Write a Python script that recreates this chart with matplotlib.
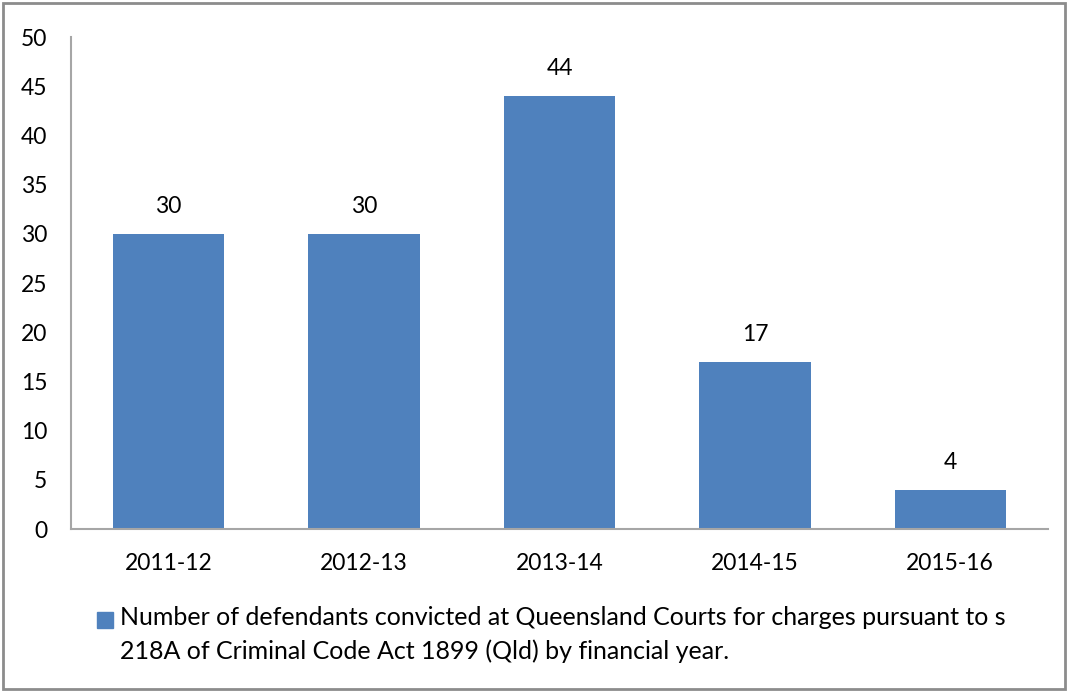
import numpy as np
import matplotlib.pyplot as plt
from matplotlib.patches import Rectangle

plt.rcParams['font.family'] = ['Lato', 'DejaVu Sans']

years = ['2011-12', '2012-13', '2013-14', '2014-15', '2015-16']
convicted = [30, 30, 44, 17, 4]
legend_label = ('Number of defendants convicted at Queensland Courts for charges pursuant to s\n'
                '218A of Criminal Code Act 1899 (Qld) by financial year.')

bar_color = '#4F81BD'
fsize = 16.5

fig = plt.figure(figsize=(10.68, 6.92), dpi=100)
ax = fig.add_axes([71/1068, 1 - 529/692, (1048 - 71)/1068, (529 - 37)/692])

x = np.arange(len(years))
bars = ax.bar(x, convicted, width=0.57, color=bar_color)

for b, v in zip(bars, convicted):
    ax.annotate(str(v), (b.get_x() + b.get_width()/2, v), xytext=(0, 12),
                textcoords='offset points', ha='center', va='bottom', fontsize=fsize)

ax.set_xlim(-0.5, len(years) - 0.5)
ax.set_ylim(0, 50)
ax.set_yticks(range(0, 51, 5))
ax.set_xticks(x)
ax.set_xticklabels(years)
ax.tick_params(length=0, labelsize=fsize)
ax.tick_params(axis='x', pad=17)
ax.tick_params(axis='y', pad=17)

for s in ['top', 'right']:
    ax.spines[s].set_visible(False)
for s in ['left', 'bottom']:
    ax.spines[s].set_color('#a6a6a6')
    ax.spines[s].set_linewidth(1.5)

# legend drawn by hand so the marker sits on the first line
fig.patches.append(Rectangle((97/1068, 1 - 628/692), 16/1068, 16/692,
                             transform=fig.transFigure, color=bar_color))
fig.text(120/1068, 1 - 606/692, legend_label, fontsize=18, va='top',
         linespacing=1.55)

# outer border
fig.patches.append(Rectangle((3/1068, 3/692), 1 - 6/1068, 1 - 6/692,
                             transform=fig.transFigure, fill=False,
                             edgecolor='#8c8c8c', linewidth=2))

fig.savefig('out.png', dpi=100)
